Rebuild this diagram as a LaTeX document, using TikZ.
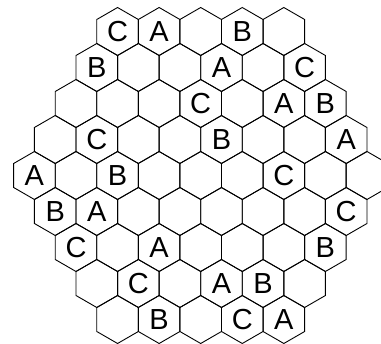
\documentclass[tikz,border=0pt]{standalone}
\usepackage{fontspec}
\setmainfont{Liberation Sans}
\usetikzlibrary{shapes.geometric}
\newcommand\hexrow[3]{%
  \foreach \lab [count=\i from 0] in {#3} {%
    \node[hexcell] (h#1-\i) at ({200.7+(\i-(#2-1)/2)*41.57},{-31.5-36*#1}) {\lab};
  }%
}
\begin{document}
\begin{tikzpicture}[x=1pt,y=1pt,
  hexcell/.style={regular polygon, regular polygon sides=6, shape border rotate=30,
    minimum size=48pt, inner sep=0pt, outer sep=0pt, draw, line width=0.9pt,
    font=\fontsize{29}{29}\selectfont}]
\useasboundingbox (0,0) rectangle (381,-344);
\clip (0,0) rectangle (381,-344);
\hexrow{0}{5}{C,A,{},B,{}}
\hexrow{1}{6}{B,{},{},A,{},C}
\hexrow{2}{7}{{},{},{},C,{},A,B}
\hexrow{3}{8}{{},C,{},{},B,{},{},A}
\hexrow{4}{9}{A,{},B,{},{},{},C,{},{}}
\hexrow{5}{8}{B,A,{},{},{},{},{},C}
\hexrow{6}{7}{C,{},A,{},{},{},B}
\hexrow{7}{6}{{},C,{},A,B,{}}
\hexrow{8}{5}{{},B,{},C,A}
\end{tikzpicture}
\end{document}
